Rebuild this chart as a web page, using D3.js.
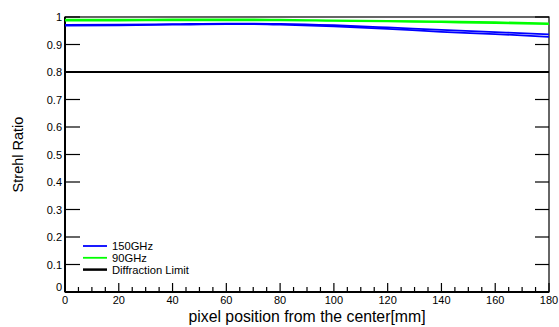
<!DOCTYPE html>
<html>
<head>
<meta charset="utf-8">
<script src="https://d3js.org/d3.v7.min.js"></script>
<style>
  body { margin: 0; background: #fff; }
  text { font-family: "Liberation Sans", Arial, sans-serif; fill: #000; }
</style>
</head>
<body>
<div id="chart"></div>
<script>
// positions in mm
var xPos = [0, 20, 40, 60, 70, 80, 100, 120, 140, 160, 180];
// 150GHz, two pixel rows
var blueA = [0.971, 0.972, 0.974, 0.976, 0.976, 0.975, 0.970, 0.962, 0.953, 0.945, 0.937];
var blueB = [0.969, 0.970, 0.972, 0.974, 0.974, 0.972, 0.966, 0.957, 0.946, 0.938, 0.928];
// 90GHz
var greenA = [0.990, 0.990, 0.991, 0.991, 0.991, 0.990, 0.988, 0.986, 0.984, 0.981, 0.977];
var greenB = [0.987, 0.987, 0.988, 0.988, 0.988, 0.988, 0.986, 0.984, 0.981, 0.978, 0.974];
var diffLimit = 0.8;

var xTicks = [0, 20, 40, 60, 80, 100, 120, 140, 160, 180];
var yTicks = [0, 0.1, 0.2, 0.3, 0.4, 0.5, 0.6, 0.7, 0.8, 0.9, 1];

var legendItems = [
  {name: "150GHz", color: "#0000ff"},
  {name: "90GHz", color: "#00ff00"},
  {name: "Diffraction Limit", color: "#000000"}
];

var W = 559, H = 327;
var margin = {top: 17, right: 10, bottom: 35, left: 65};
var width = W - margin.left - margin.right,
    height = H - margin.top - margin.bottom;

var svg = d3.select("#chart").append("svg")
  .attr("width", W).attr("height", H)
  .append("g")
  .attr("transform", "translate(" + margin.left + "," + margin.top + ")");

var x = d3.scaleLinear().domain([0, 180]).range([0, width]);
var y = d3.scaleLinear().domain([0, 1]).range([height, 0]);

// frame
svg.append("rect").attr("x", 0).attr("y", 0).attr("width", width).attr("height", height)
  .attr("fill", "none").attr("stroke", "#000").attr("stroke-width", 1.2);

// x ticks (major + minor), pointing inward
var minor = d3.range(0, 181, 5);
svg.append("g").selectAll("line").data(minor).enter().append("line")
  .attr("x1", d => x(d)).attr("x2", d => x(d))
  .attr("y1", height).attr("y2", d => height - (d % 20 === 0 ? 9 : 5))
  .attr("stroke", "#000").attr("stroke-width", 1.2);

svg.append("g").selectAll("text").data(xTicks).enter().append("text")
  .attr("x", d => x(d)).attr("y", height + 12)
  .attr("text-anchor", "middle").attr("font-size", 11)
  .text(d => d);

// y ticks both sides
svg.append("g").selectAll("line").data(yTicks).enter().append("line")
  .attr("x1", 0).attr("x2", 15)
  .attr("y1", d => y(d)).attr("y2", d => y(d))
  .attr("stroke", "#000").attr("stroke-width", 1.2);
svg.append("g").selectAll("line").data(yTicks).enter().append("line")
  .attr("x1", width - 14).attr("x2", width)
  .attr("y1", d => y(d)).attr("y2", d => y(d))
  .attr("stroke", "#000").attr("stroke-width", 1.2);

svg.append("g").selectAll("text").data(yTicks).enter().append("text")
  .attr("x", -3).attr("y", d => d === 0 ? y(d) - 1 : y(d) + 4)
  .attr("text-anchor", "end").attr("font-size", 11)
  .text(d => d === 0 ? "0" : d === 1 ? "1" : d3.format(".1f")(d));

// axis lines a bit heavier
svg.append("line").attr("x1", 0).attr("x2", 0).attr("y1", 0).attr("y2", height)
  .attr("stroke", "#000").attr("stroke-width", 2);
svg.append("line").attr("x1", 0).attr("x2", width).attr("y1", height).attr("y2", height)
  .attr("stroke", "#000").attr("stroke-width", 2);

// axis titles
svg.append("text").attr("x", width / 2).attr("y", height + 30)
  .attr("text-anchor", "middle").attr("font-size", 15.8)
  .text("pixel position from the center[mm]");
svg.append("text")
  .attr("transform", "translate(" + (-42) + "," + (height / 2) + ") rotate(-90)")
  .attr("text-anchor", "middle").attr("font-size", 14.5)
  .text("Strehl Ratio");

// data lines
var line = d3.line().x((d, i) => x(xPos[i])).y(d => y(d)).curve(d3.curveMonotoneX);
[[greenA, "#00ff00"], [greenB, "#00ff00"], [blueA, "#0000ff"], [blueB, "#0000ff"]].forEach(function (s) {
  svg.append("path").datum(s[0]).attr("d", line)
    .attr("fill", "none").attr("stroke", s[1]).attr("stroke-width", 1.8);
});

// diffraction limit
svg.append("line").attr("x1", x(0)).attr("x2", x(180))
  .attr("y1", y(diffLimit)).attr("y2", y(diffLimit))
  .attr("stroke", "#000").attr("stroke-width", 2);

// legend
var lg = svg.append("g").attr("transform", "translate(18," + (height - 46) + ")");
legendItems.forEach(function (d, i) {
  lg.append("line").attr("x1", 0).attr("x2", 24)
    .attr("y1", i * 11.8).attr("y2", i * 11.8)
    .attr("stroke", d.color).attr("stroke-width", i === 2 ? 2.5 : 1.8);
  lg.append("text").attr("x", 29).attr("y", i * 11.8 + 4)
    .attr("font-size", 11.2).text(d.name);
});
</script>
</body>
</html>
